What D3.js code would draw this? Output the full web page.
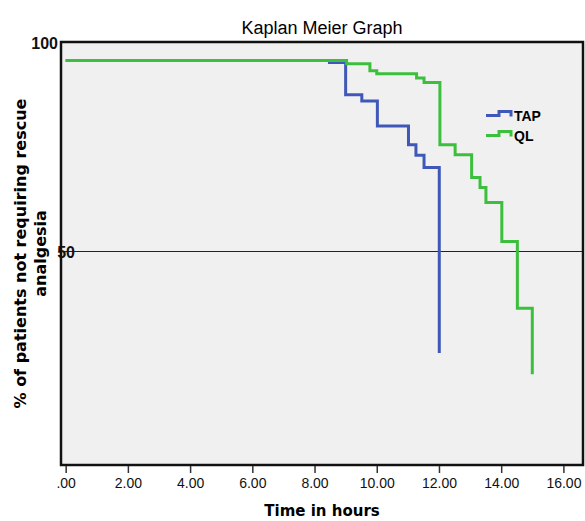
<!DOCTYPE html>
<html>
<head>
<meta charset="utf-8">
<script src="https://cdn.jsdelivr.net/npm/d3@7"></script>
<style>
  body { margin: 0; background: #fff; }
  svg { display: block; }
</style>
</head>
<body>
<script>
// survival steps (time in hours, % after the step)
const tapTimes = [0, 8.48, 9.0, 9.52, 10.02, 11.02, 11.26, 11.52, 12.01];
const tapSurv  = [95.6, 95.1, 87.4, 85.9, 79.9, 75.4, 72.9, 70.0, 25.6];
const qlTimes  = [0, 9.03, 9.78, 10.0, 11.28, 11.52, 12.03, 12.52, 13.05, 13.32, 13.51, 14.02, 14.52, 15.0];
const qlSurv   = [95.6, 94.8, 93.1, 92.4, 91.4, 90.3, 75.4, 73.0, 67.6, 65.2, 61.6, 52.3, 36.3, 20.5];
const xTicks = [0, 2, 4, 6, 8, 10, 12, 14, 16];
const yTicks = [50, 100];
const groups = ["TAP", "QL"];
const colors = ["#3f58b8", "#3cbf3c"];

const width = 585, height = 521;
const plotLeft = 61, plotRight = 583, plotTop = 42, plotBottom = 465;

const svg = d3.select("body").append("svg")
  .attr("width", width)
  .attr("height", height);

const x = d3.scaleLinear().domain([-0.15, 16.63]).range([plotLeft, plotRight]);
const y = d3.scaleLinear().domain([-1.2, 100]).range([plotBottom, plotTop]);

// plot frame
svg.append("rect")
  .attr("x", plotLeft).attr("y", plotTop)
  .attr("width", plotRight - plotLeft).attr("height", plotBottom - plotTop)
  .attr("fill", "#f0f0f0");

// 50% reference line
svg.append("line")
  .attr("x1", plotLeft).attr("x2", plotRight)
  .attr("y1", Math.round(y(50)) + 0.5).attr("y2", Math.round(y(50)) + 0.5)
  .attr("stroke", "#222").attr("stroke-width", 1.2);

const line = d3.line()
  .x(d => x(d[0]))
  .y(d => y(d[1]))
  .curve(d3.curveStepAfter);

const series = [
  d3.zip(tapTimes, tapSurv),
  d3.zip(qlTimes, qlSurv)
];

svg.selectAll(".km")
  .data(series)
  .enter()
  .append("path")
  .attr("class", "km")
  .attr("d", line)
  .attr("fill", "none")
  .attr("stroke", (d, i) => colors[i])
  .attr("stroke-width", 3);

svg.append("rect")
  .attr("x", plotLeft).attr("y", plotTop)
  .attr("width", plotRight - plotLeft).attr("height", plotBottom - plotTop)
  .attr("fill", "none")
  .attr("stroke", "#111").attr("stroke-width", 2.5);

// x axis
const xAxis = svg.append("g")
  .attr("transform", `translate(0,${plotBottom + 1})`)
  .call(d3.axisBottom(x)
    .tickValues(xTicks)
    .tickSize(7)
    .tickPadding(5)
    .tickFormat(d => d === 0 ? ".00" : d.toFixed(2)));
xAxis.select(".domain").remove();
xAxis.selectAll("line").attr("stroke", "#333").attr("stroke-width", 1.5);
xAxis.selectAll("text")
  .attr("fill", "#111")
  .style("font-family", "'Liberation Sans', Arial, sans-serif")
  .style("font-size", "14px");

// y axis
const yAxis = svg.append("g")
  .attr("transform", `translate(${plotLeft},0)`)
  .call(d3.axisLeft(y).tickValues(yTicks).tickSize(0).tickPadding(3));
yAxis.select(".domain").remove();
yAxis.selectAll("text")
  .attr("x", d => d === 50 ? 14 : -3)
  .attr("dy", "0.4em")
  .attr("fill", "#111")
  .style("font-family", "'Liberation Sans', Arial, sans-serif")
  .style("font-size", "16px")
  .style("font-weight", "bold");

// title
svg.append("text")
  .attr("x", (plotLeft + plotRight) / 2).attr("y", 34)
  .attr("text-anchor", "middle")
  .attr("fill", "#000")
  .style("font-family", "'Liberation Sans', Arial, sans-serif")
  .style("font-size", "18px")
  .text("Kaplan Meier Graph");

// axis titles
svg.append("text")
  .attr("x", (plotLeft + plotRight) / 2).attr("y", 516)
  .attr("text-anchor", "middle")
  .style("font-family", "'DejaVu Sans', sans-serif")
  .style("font-size", "15px")
  .style("font-weight", "bold")
  .text("Time in hours");

const yTitle = svg.append("text")
  .attr("transform", `translate(0,${(plotTop + plotBottom) / 2}) rotate(-90)`)
  .attr("text-anchor", "middle")
  .style("font-family", "'DejaVu Sans', sans-serif")
  .style("font-size", "16px")
  .style("font-weight", "bold");
yTitle.append("tspan").attr("x", 0).attr("y", 26).text("% of patients not requiring rescue");
yTitle.append("tspan").attr("x", 0).attr("y", 46).text("analgesia");

// legend
const legend = svg.append("g");
groups.forEach((g, i) => {
  const ly = 115.5 + i * 20;
  legend.append("path")
    .attr("d", `M486,${ly} H499 V${ly - 4} H511 V${ly + 1}`)
    .attr("fill", "none")
    .attr("stroke", colors[i])
    .attr("stroke-width", 3);
  legend.append("text")
    .attr("x", 514).attr("y", ly + 5)
    .style("font-family", "'Liberation Sans', Arial, sans-serif")
    .style("font-size", "14px")
    .style("font-weight", "bold")
    .text(g);
});
</script>
</body>
</html>
